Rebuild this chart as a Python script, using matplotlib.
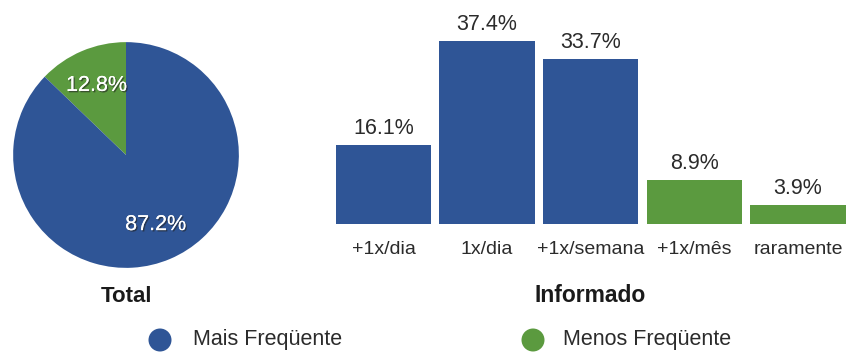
import matplotlib
matplotlib.use("Agg")
import matplotlib.pyplot as plt
import matplotlib.patheffects as pe
from matplotlib.patches import Ellipse

plt.rcParams['font.family'] = ['Liberation Sans', 'DejaVu Sans']

BLUE = '#2f5596'
GREEN = '#5b9a3f'
TEXT = '#2b2b2b'

# Total split
pie_labels = ['Menos Freqüente', 'Mais Freqüente']
pie_values = [12.8, 87.2]

# Reported frequency
categories = ['+1x/dia', '1x/dia', '+1x/semana', '+1x/mês', 'raramente']
bar_values = [16.1, 37.4, 33.7, 8.9, 3.9]
bar_group = ['Mais', 'Mais', 'Mais', 'Menos', 'Menos']

W, H = 846, 353
fig = plt.figure(figsize=(W / 100, H / 100), dpi=100)


def px_axes(left, top, width, height):
    return fig.add_axes([left / W, 1 - (top + height) / H, width / W, height / H])


# ---- pie ----
ax_pie = px_axes(126 - 114, 155 - 114, 228, 228)
wedges, _, autotexts = ax_pie.pie(
    pie_values, colors=[GREEN, BLUE], startangle=90, counterclock=True,
    autopct='%.1f%%', pctdistance=0.67, radius=1.0,
    wedgeprops=dict(linewidth=0))
for t in autotexts:
    t.set_color('white')
    t.set_fontsize(15.5)
    t.set_path_effects([pe.withSimplePatchShadow(offset=(1, -1), shadow_rgbFace='#222222', alpha=0.6),
                        pe.Normal()])
ax_pie.set_xlim(-1.01, 1.01)
ax_pie.set_ylim(-1.01, 1.01)
ax_pie.set_aspect('equal')
ax_pie.axis('off')

# ---- bars ----
pitch = 103.6
ax_bar = px_axes(320, 0, 526, 224)
x = list(range(len(categories)))
colors = [BLUE if g == 'Mais' else GREEN for g in bar_group]
bars = ax_bar.bar(x, bar_values, width=0.92, color=colors, linewidth=0)
for b, v in zip(bars, bar_values):
    ax_bar.annotate(f'{v:.1f}%', (b.get_x() + b.get_width() / 2, v),
                    xytext=(0, 12), textcoords='offset points',
                    ha='center', va='center', fontsize=15.5, color=TEXT)
ax_bar.set_xlim(-(383.5 - 320) / pitch, 4 + (846 - 798) / pitch)
ax_bar.set_ylim(0, 224 / 4.9)
ax_bar.set_xticks(x)
ax_bar.set_xticklabels(categories, fontsize=14, color=TEXT)
ax_bar.tick_params(axis='x', length=0, pad=12.5)
ax_bar.set_yticks([])
for s in ax_bar.spines.values():
    s.set_visible(False)
ax_bar.patch.set_alpha(0)

# ---- titles ----
fig.text(126 / W, 1 - 296 / H, 'Total', ha='center', va='center',
         fontsize=16, fontweight='bold', color='#1a1a1a')
fig.text(590 / W, 1 - 296 / H, 'Informado', ha='center', va='center',
         fontsize=16.5, fontweight='bold', color='#1a1a1a')

# ---- legend ----
for cx, col, label, tx in [(160, BLUE, pie_labels[1], 193), (533, GREEN, pie_labels[0], 563)]:
    fig.patches.append(Ellipse((cx / W, 1 - 340 / H), 23 / W, 23 / H, transform=fig.transFigure,
                               facecolor=col, edgecolor='none'))
    fig.text(tx / W, 1 - 340 / H, label, ha='left', va='center', fontsize=15.5, color=TEXT)

fig.savefig('out.png', dpi=100, facecolor='white')
